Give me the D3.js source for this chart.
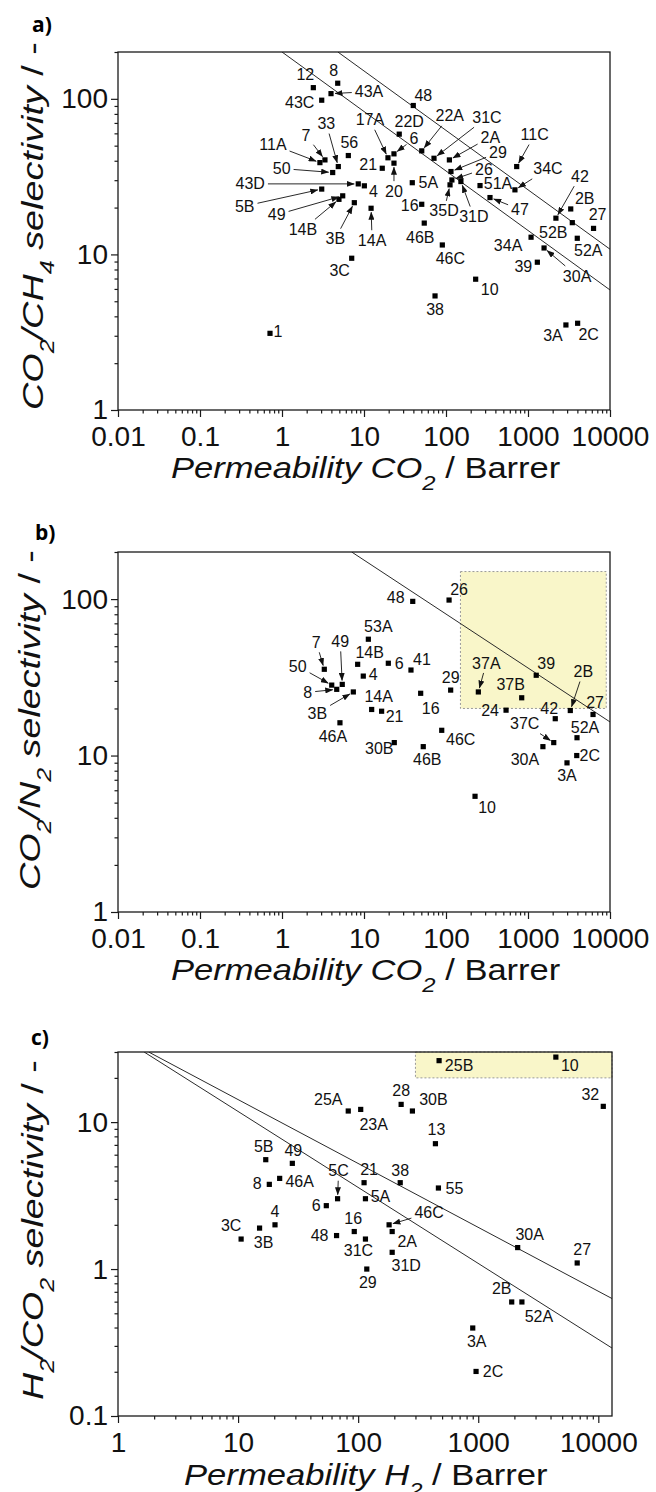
<!DOCTYPE html>
<html lang="en">
<head>
  <meta charset="UTF-8">
  <title>CO2/CH4, CO2/N2 and H2/CO2 permeability-selectivity plots</title>
  <style>
    body {
      margin: 0;
      background: #fff;
    }
    svg {
      display: block;
      font-family: "Liberation Sans", Arimo, Arial, sans-serif;
    }
    .frame {
      fill: none;
      stroke: #1a1a1a;
      stroke-width: 1.3px;
    }
    .tick line {
      stroke: #1a1a1a;
      stroke-width: 1.2px;
    }
    .tick-label {
      font-size: 28px;
      fill: #111;
    }
    .axis-title {
      fill: #111;
    }
    .pt {
      fill: #000;
    }
    .pt-label {
      font-size: 16px;
      fill: #111;
    }
    .bound {
      fill: none;
      stroke: #2a2a2a;
      stroke-width: 1px;
    }
    .arrow {
      stroke: #111;
      stroke-width: 0.9px;
    }
    .region {
      fill: #f9f6c9;
      stroke: #9a9a9a;
      stroke-width: 1px;
      stroke-dasharray: 2, 2;
    }
    .panel-tag {
      font-family: "Open Sans", "Liberation Sans", sans-serif;
      font-weight: bold;
      font-size: 21px;
      fill: #000;
    }
  </style>
</head>
<body>
  <script src="https://d3js.org/d3.v7.min.js"></script>
  <script>
    // ---- panel a: CO2/CH4 ----
    const aNames = ["12", "8", "43A", "43C", "7", "11A", "33", "50", "56", "17A", "6", "21", "20", "43D", "4",
      "5B", "49", "14B", "3B", "14A", "48", "22D", "22A", "31C", "2A", "29", "26", "5A", "35D", "31D", "51A",
      "47", "11C", "34C", "16", "46B", "42", "2B", "52B", "27", "46C", "3C", "34A", "52A", "30A", "39", "10",
      "38", "1", "3A", "2C"];
    const aPerm = [2.41, 4.78, 3.96, 3.05, 3.34, 2.90, 4.86, 4.15, 6.44, 19.6, 23.2, 16.7, 23.2, 8.51, 10.1,
      3.05, 5.50, 4.95, 7.62, 12.2, 39.9, 26.9, 50.6, 71.4, 110, 115, 118, 38.8, 112, 152, 260,
      344, 728, 693, 50.6, 54.3, 2190, 3320, 3470, 6300, 90.2, 7.08, 1090, 3990, 1570, 1300, 230,
      73.5, 0.714, 2900, 4030];
    const aSel = [118, 126, 108, 98, 40.5, 38.9, 36.7, 33.6, 43.2, 41.8, 44.3, 35.8, 38.6, 28.4, 27.6,
      26.3, 23.8, 22.6, 21.5, 19.8, 90.6, 59.3, 46.3, 41.5, 40.5, 34.1, 30.1, 28.9, 28.0, 29.4, 27.7,
      23.2, 36.7, 26.0, 21.0, 15.9, 17.1, 19.6, 16.0, 14.7, 11.5, 9.45, 12.9, 12.7, 11.0, 8.91, 6.93,
      5.41, 3.11, 3.52, 3.61];
    const aBound1991 = [[1.0, 200], [10000, 5.91]];
    const aBound2008 = [[4.8, 200], [10000, 10.8]];

    // ---- panel b: CO2/N2 ----
    const bNames = ["7", "49", "50", "8", "3B", "46A", "53A", "14B", "4", "6", "41", "29", "16", "14A", "21",
      "48", "26", "37A", "37B", "39", "2B", "24", "42", "27", "52A", "37C", "30A", "2C", "3A", "46C", "46B",
      "30B", "10"];
    const bPerm = [3.28, 5.43, 4.04, 4.65, 7.41, 5.09, 11.3, 8.37, 9.80, 19.8, 37.4, 114, 49.1, 12.4, 16.4,
      39.3, 109, 248, 838, 1260, 3280, 540, 2150, 6210, 3960, 2060, 1520, 3930, 2990, 88.7, 52.8,
      23.4, 226];
    const bSel = [35.6, 28.5, 28.2, 26.5, 25.5, 16.2, 55.4, 38.3, 32.2, 38.9, 35.2, 26.2, 25.0, 19.7, 19.2,
      96.7, 98.6, 25.5, 23.4, 32.6, 19.4, 19.5, 17.2, 18.3, 13.0, 12.1, 11.4, 10.0, 8.98, 14.5, 11.4,
      12.1, 5.49];
    const bBound2008 = [[7.08, 200], [10000, 16.4]];
    const bTargetPerm = [150, 9000];
    const bTargetSel = [20, 150];

    // ---- panel c: H2/CO2 ----
    const cNames = ["25A", "23A", "5B", "49", "8", "46A", "5C", "6", "21", "5A", "4", "3B", "3C", "16", "48",
      "31C", "29", "25B", "10", "28", "30B", "32", "13", "38", "55", "46C", "2A", "31D", "30A", "27", "2B",
      "52A", "3A", "2C"];
    const cPerm = [82.7, 105, 17.0, 28.3, 18.2, 22.2, 67.4, 54.3, 112, 115, 20.3, 15.1, 10.6, 92.8, 66.1,
      115, 118, 472, 4430, 228, 283, 11000, 440, 224, 466, 181, 192, 192, 2130, 6670, 1900,
      2310, 900, 959];
    const cSel = [11.9, 12.2, 5.55, 5.24, 3.77, 4.14, 3.01, 2.70, 3.87, 3.01, 2.00, 1.90, 1.60, 1.80, 1.69,
      1.60, 1.00, 26.2, 27.7, 13.2, 11.9, 12.8, 7.13, 3.87, 3.56, 2.00, 1.80, 1.30, 1.40, 1.10, 0.597,
      0.597, 0.397, 0.201];
    const cBound1991 = [[1.65, 30], [13000, 0.29]];
    const cBound2008 = [[1.8, 30], [13000, 0.63]];
    const cTargetPerm = [300, 13000];
    const cTargetSel = [20, 30];

    // ---- axes ----
    const co2Ticks = [0.01, 0.1, 1, 10, 100, 1000, 10000];
    const h2Ticks = [1, 10, 100, 1000, 10000];
    const selTicksAB = [1, 10, 100];
    const selTicksC = [0.1, 1, 10];

    // label placement: [dx, dy, arrow] from the marker, in px
    const aLayout = {
      "12": [-8, -13], "8": [-4, -13], "43A": [38, -2, 1], "43C": [-22, 2], "7": [-19, -25, 1],
      "11A": [-47, -18, 1], "33": [-12, -43, 1], "50": [-51, -4, 1], "56": [1, -13], "17A": [-18, -38, 1],
      "6": [20, -15, 1], "21": [-14, -4], "20": [0, 28, 1], "43D": [-108, 0, 1], "4": [9, 6],
      "5B": [-77, 17, 1], "49": [-66, 19, 1], "14B": [-36, 30, 1], "3B": [-19, 36, 1], "14A": [1, 32, 1],
      "48": [10, -10], "22D": [10, -13], "22A": [28, -35, 1], "31C": [53, -41, 1], "2A": [41, -23, 1],
      "29": [47, -19, 1], "26": [32, -11, 1], "5A": [16, 0], "35D": [-6, 26, 1], "31D": [13, 35, 1],
      "51A": [18, -2], "47": [30, 12, 1], "11C": [18, -32, 1], "34C": [33, -21, 1], "16": [-12, 1],
      "46B": [-4, 14], "42": [24, -42, 1], "2B": [14, -11], "52B": [-19, 10], "27": [4, -14],
      "46C": [8, 13], "3C": [-12, 12], "34A": [-23, 8], "52A": [11, 12], "30A": [33, 28, 1],
      "39": [-14, 4], "10": [14, 10], "38": [0, 13], "1": [8, -2], "3A": [-13, 10], "2C": [11, 11]
    };
    const bLayout = {
      "7": [-8, -27, 1], "49": [-2, -43, 1], "50": [-34, -19, 1], "8": [-29, 3, 1], "3B": [-36, 21, 1],
      "46A": [-7, 14], "53A": [10, -13], "14B": [12, -12], "4": [10, -2], "6": [11, 0], "41": [11, -11],
      "29": [0, -13], "16": [10, 15], "14A": [7, -13], "21": [13, 5], "48": [-17, -4], "26": [10, -11],
      "37A": [8, -29, 1], "37B": [-11, -13], "39": [10, -12], "2B": [13, -39, 1], "24": [-16, 0],
      "42": [-6, -10], "27": [2, -12], "52A": [8, -10], "37C": [-29, -19, 1], "30A": [-18, 13],
      "2C": [13, 0], "3A": [0, 13], "46C": [19, 9], "46B": [4, 13], "30B": [-15, 6], "10": [12, 11]
    };
    const cLayout = {
      "25A": [-20, -12], "23A": [13, 15], "5B": [-2, -13], "49": [1, -13], "8": [-12, -1], "46A": [20, 3],
      "5C": [1, -28, 1], "6": [-10, 0], "21": [5, -13], "5A": [15, -2], "4": [0, -13], "3B": [4, 14],
      "3C": [-10, -14], "16": [-1, -13], "48": [-17, 0], "31C": [-7, 11], "29": [1, 13], "25B": [20, 5],
      "10": [14, 8], "28": [0, -14], "30B": [21, -12], "32": [-13, -12], "13": [1, -14], "38": [0, -12],
      "55": [16, 0], "46C": [40, -12, 1], "2A": [15, 10], "31D": [14, 13], "30A": [12, -13], "27": [5, -14],
      "2B": [-10, -14], "52A": [17, 14], "3A": [4, 13], "2C": [17, 0]
    };

    const svg = d3.select("body").append("svg")
      .attr("width", 656)
      .attr("height", 1492);

    svg.append("defs").append("marker")
      .attr("id", "head")
      .attr("markerUnits", "userSpaceOnUse")
      .attr("markerWidth", 8)
      .attr("markerHeight", 6)
      .attr("refX", 7.5)
      .attr("refY", 3)
      .attr("orient", "auto")
      .append("path")
      .attr("d", "M0,0 L8,3 L0,6 Z")
      .attr("fill", "#111");

    // text made of italic / upright / subscript pieces
    function richText(parent, parts, size, drop) {
      const t = parent.append("text").attr("class", "axis-title").style("font-size", size + "px");
      let shifted = 0;
      parts.forEach(([s, kind]) => {
        const ts = t.append("tspan").text(s);
        if (kind === "sub") {
          ts.style("font-size", Math.round(size * 0.68) + "px").style("font-style", "italic");
          ts.attr("dy", drop - shifted);
          shifted = drop;
        } else {
          ts.style("font-style", kind === "i" ? "italic" : "normal");
          if (shifted) { ts.attr("dy", -shifted); shifted = 0; }
        }
      });
      return t;
    }

    function isDecade(v) {
      const l = Math.log10(v);
      return Math.abs(l - Math.round(l)) < 1e-6;
    }

    function drawPanel(p) {
      const x = d3.scaleLog().domain(p.xDomain).range([p.left, p.right]);
      const y = d3.scaleLog().domain(p.yDomain).range([p.bottom, p.top]);
      const g = svg.append("g");
      const clipId = "clip-" + p.tag;

      g.append("clipPath").attr("id", clipId).append("rect")
        .attr("x", p.left).attr("y", p.top)
        .attr("width", p.right - p.left).attr("height", p.bottom - p.top);

      if (p.region) {
        g.append("rect")
          .attr("class", "region")
          .attr("x", x(p.region[0][0]))
          .attr("y", y(p.region[1][1]))
          .attr("width", x(p.region[0][1]) - x(p.region[0][0]))
          .attr("height", y(p.region[1][0]) - y(p.region[1][1]));
      }

      const line = d3.line().x(d => x(d[0])).y(d => y(d[1]));
      g.append("g")
        .attr("clip-path", `url(#${clipId})`)
        .selectAll("path")
        .data(p.bounds)
        .join("path")
        .attr("class", "bound")
        .attr("d", line);

      // minor + major ticks
      const xMinor = x.ticks().filter(v => !isDecade(v));
      const yMinor = y.ticks().filter(v => !isDecade(v));

      g.append("g")
        .attr("transform", `translate(0,${p.bottom})`)
        .call(d3.axisBottom(x).tickValues(xMinor).tickSize(3.5).tickFormat(""))
        .call(s => s.select(".domain").remove());
      g.append("g")
        .attr("transform", `translate(0,${p.bottom})`)
        .call(d3.axisBottom(x).tickValues(p.xTicks).tickSize(7).tickPadding(p.tickPad).tickFormat(d => String(d)))
        .call(s => s.select(".domain").remove())
        .call(s => s.selectAll("text").attr("class", "tick-label"));

      g.append("g")
        .attr("transform", `translate(${p.left},0)`)
        .call(d3.axisLeft(y).tickValues(yMinor).tickSize(3.5).tickFormat(""))
        .call(s => s.select(".domain").remove());
      g.append("g")
        .attr("transform", `translate(${p.left},0)`)
        .call(d3.axisLeft(y).tickValues(p.yTicks).tickSize(7).tickPadding(3).tickFormat(d => String(d)))
        .call(s => s.select(".domain").remove())
        .call(s => s.selectAll("text").attr("class", "tick-label"));

      g.append("rect")
        .attr("class", "frame")
        .attr("x", p.left).attr("y", p.top)
        .attr("width", p.right - p.left).attr("height", p.bottom - p.top);

      // points
      const pts = p.names.map((n, i) => ({ name: n, px: x(p.perm[i]), py: y(p.sel[i]) }));

      g.selectAll("rect.pt")
        .data(pts)
        .join("rect")
        .attr("class", "pt")
        .attr("x", d => d.px - 2.6)
        .attr("y", d => d.py - 2.6)
        .attr("width", 5.2)
        .attr("height", 5.2);

      pts.forEach(d => {
        const [dx, dy, arrow] = p.layout[d.name] || [10, -10];
        const lx = d.px + dx, ly = d.py + dy;
        const t = g.append("text")
          .attr("class", "pt-label")
          .attr("x", lx)
          .attr("y", ly)
          .attr("dy", "0.35em")
          .attr("text-anchor", "middle")
          .text(d.name);
        if (arrow) {
          const w = t.node().getComputedTextLength();
          const vx = d.px - lx, vy = d.py - ly;
          const len = Math.hypot(vx, vy);
          const ux = vx / len, uy = vy / len;
          const t0 = Math.min((w / 2 + 3) / (Math.abs(ux) || 1e-6), 10 / (Math.abs(uy) || 1e-6));
          g.append("line")
            .attr("class", "arrow")
            .attr("x1", lx + ux * t0)
            .attr("y1", ly + uy * t0)
            .attr("x2", d.px - ux * 4)
            .attr("y2", d.py - uy * 4)
            .attr("marker-end", "url(#head)");
        }
      });

      // axis titles, stretched along the text to the reference length
      const yt = g.append("g");
      const ytText = richText(yt, p.yTitle, 30, 11);
      const yw = ytText.node().getBBox().width;
      yt.attr("transform", `translate(${p.yTitleX},${p.yTitleBottom}) rotate(-90) scale(${p.yTitleLen / yw},1)`);

      const xt = g.append("g");
      const xtText = richText(xt, p.xTitle, 29, 12);
      const xw = xtText.node().getBBox().width;
      xt.attr("transform", `translate(${p.xTitleCx - p.xTitleLen / 2},${p.xTitleY}) scale(${p.xTitleLen / xw},1)`);

      svg.append("text")
        .attr("class", "panel-tag")
        .attr("x", p.tagX)
        .attr("y", p.tagY)
        .text(p.tag + ")");
    }

    drawPanel({
      tag: "a", tagX: 32, tagY: 32,
      left: 118, right: 610, top: 52, bottom: 410, tickPad: 9,
      xDomain: [0.01, 10000], yDomain: [1, 200],
      xTicks: co2Ticks, yTicks: selTicksAB,
      names: aNames, perm: aPerm, sel: aSel, layout: aLayout,
      bounds: [aBound1991, aBound2008],
      yTitle: [["CO", "i"], ["2", "sub"], ["/CH", "i"], ["4", "sub"], [" selectivity", "i"], [" / -", "r"]],
      yTitleX: 43, yTitleBottom: 410, yTitleLen: 368,
      xTitle: [["Permeability CO", "i"], ["2", "sub"], [" / Barrer", "r"]],
      xTitleCx: 366, xTitleY: 478, xTitleLen: 390
    });

    drawPanel({
      tag: "b", tagX: 35, tagY: 540,
      left: 118, right: 610, top: 552, bottom: 912, tickPad: 9,
      xDomain: [0.01, 10000], yDomain: [1, 200],
      xTicks: co2Ticks, yTicks: selTicksAB,
      names: bNames, perm: bPerm, sel: bSel, layout: bLayout,
      bounds: [bBound2008],
      region: [bTargetPerm, bTargetSel],
      yTitle: [["CO", "i"], ["2", "sub"], ["/N", "i"], ["2", "sub"], [" selectivity", "i"], [" / -", "r"]],
      yTitleX: 40, yTitleBottom: 890, yTitleLen: 340,
      xTitle: [["Permeability CO", "i"], ["2", "sub"], [" / Barrer", "r"]],
      xTitleCx: 366, xTitleY: 980, xTitleLen: 390
    });

    drawPanel({
      tag: "c", tagX: 31, tagY: 1045,
      left: 118, right: 612, top: 1052, bottom: 1416, tickPad: 9,
      xDomain: [1, 13000], yDomain: [0.1, 30],
      xTicks: h2Ticks, yTicks: selTicksC,
      names: cNames, perm: cPerm, sel: cSel, layout: cLayout,
      bounds: [cBound1991, cBound2008],
      region: [cTargetPerm, cTargetSel],
      yTitle: [["H", "i"], ["2", "sub"], ["/CO", "i"], ["2", "sub"], [" selectivity", "i"], [" / -", "r"]],
      yTitleX: 43, yTitleBottom: 1400, yTitleLen: 340,
      xTitle: [["Permeability H", "i"], ["2", "sub"], [" / Barrer", "r"]],
      xTitleCx: 366, xTitleY: 1485, xTitleLen: 364
    });
  </script>
</body>
</html>
